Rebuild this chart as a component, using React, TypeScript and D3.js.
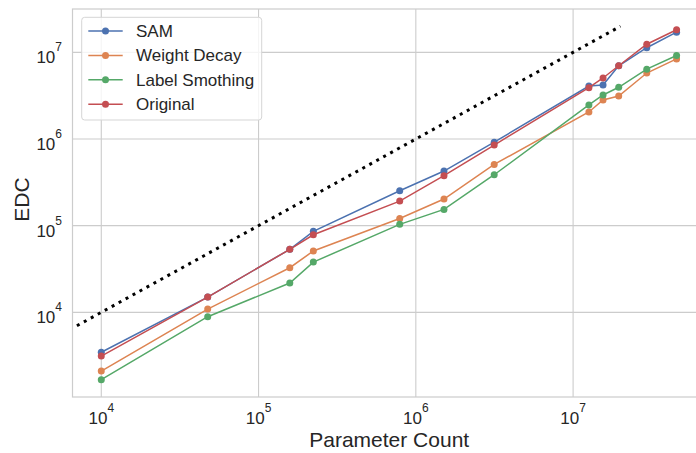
import React from "react";
import * as d3 from "d3";

const paramCounts = [1e4, 4.75e4, 1.58e5, 2.23e5, 7.9e5, 1.51e6, 3.15e6, 1.26e7, 1.55e7, 1.95e7, 2.94e7, 4.55e7];
const samEdc = [3460, 15000, 53300, 86000, 253000, 427000, 920000, 4.09e6, 4.2e6, 7.0e6, 1.13e7, 1.71e7];
const weightDecayEdc = [2100, 10900, 32700, 51000, 121000, 203000, 509000, 2.05e6, 2.82e6, 3.13e6, 5.77e6, 8.4e6];
const labelSmoothingEdc = [1670, 8900, 21800, 38000, 103500, 154000, 387000, 2.47e6, 3.22e6, 3.95e6, 6.4e6, 9.2e6];
const originalEdc = [3130, 15000, 53300, 78500, 192000, 377000, 851000, 3.91e6, 5.06e6, 7.0e6, 1.24e7, 1.82e7];

const seriesNames = ["SAM", "Weight Decay", "Label Smothing", "Original"];
const seriesValues = [samEdc, weightDecayEdc, labelSmoothingEdc, originalEdc];
const seriesColors = ["#4C72B0", "#DD8452", "#55A868", "#C44E52"];

// y = x reference line endpoints
const refLineX = [7000, 2e7];

const xTickExps = [4, 5, 6, 7];
const yTickExps = [4, 5, 6, 7];

const W = 696;
const H = 453;
const plot = { left: 72.5, right: 706, top: 9, bottom: 397 };
const FONT = "'Liberation Sans', Arial, sans-serif";
const TEXT = "#262626";
const GRID = "#cccccc";

export default function App() {
  const x = d3.scaleLog().domain([10 ** 3.817, 10 ** 7.845]).range([plot.left, plot.right]);
  const y = d3.scaleLog().domain([10 ** 3.023, 10 ** 7.5]).range([plot.bottom, plot.top]);

  const line = d3
    .line<[number, number]>()
    .x((d) => x(d[0]))
    .y((d) => y(d[1]));

  const refPath = line(refLineX.map((v) => [v, v] as [number, number])) || "";

  return (
    <div style={{ position: "absolute", left: 0, top: 0 }}>
      <svg width={W} height={H} style={{ display: "block", background: "#fff" }} fontFamily={FONT}>
        <defs>
          <clipPath id="plotArea">
            <rect x={plot.left} y={plot.top} width={plot.right - plot.left} height={plot.bottom - plot.top} />
          </clipPath>
        </defs>
        {/* grid */}
        {xTickExps.map((e) => (
          <line key={"gx" + e} x1={x(10 ** e)} x2={x(10 ** e)} y1={plot.top} y2={plot.bottom} stroke={GRID} strokeWidth={1.1} />
        ))}
        {yTickExps.map((e) => (
          <line key={"gy" + e} x1={plot.left} x2={plot.right} y1={y(10 ** e)} y2={y(10 ** e)} stroke={GRID} strokeWidth={1.1} />
        ))}
        {/* frame */}
        <rect x={plot.left} y={plot.top} width={plot.right - plot.left} height={plot.bottom - plot.top} fill="none" stroke={GRID} strokeWidth={1.2} />

        <g clipPath="url(#plotArea)">
          <path d={refPath} fill="none" stroke="#000" strokeWidth={3} strokeDasharray="3 4.95" />
          {seriesValues.map((vals, i) => {
            const pts = paramCounts.map((p, j) => [p, vals[j]] as [number, number]);
            return (
              <g key={seriesNames[i]}>
                <path d={line(pts) || ""} fill="none" stroke={seriesColors[i]} strokeWidth={1.5} />
                {pts.map((d, j) => (
                  <circle key={j} cx={x(d[0])} cy={y(d[1])} r={3.5} fill={seriesColors[i]} />
                ))}
              </g>
            );
          })}
        </g>

        {/* x tick labels */}
        {xTickExps.map((e) => (
          <text key={"tx" + e} x={x(10 ** e)} y={424} textAnchor="middle" fill={TEXT} fontSize={17}>
            10
            <tspan fontSize={12} dy={-12.5}>{e}</tspan>
          </text>
        ))}
        {/* y tick labels */}
        {yTickExps.map((e) => (
          <text key={"ty" + e} x={62} y={y(10 ** e) + 11} textAnchor="end" fill={TEXT} fontSize={17}>
            10
            <tspan fontSize={12} dy={-12}>{e}</tspan>
          </text>
        ))}

        {/* axis titles */}
        <text x={389.2} y={446.5} textAnchor="middle" fill={TEXT} fontSize={21}>
          Parameter Count
        </text>
        <text transform={`translate(29.3, 199.5) rotate(-90)`} textAnchor="middle" fill={TEXT} fontSize={21}>
          EDC
        </text>

        {/* legend */}
        <g>
          <rect x={81.7} y={17.3} width={180} height={102.7} rx={3} fill="#fff" fillOpacity={0.8} stroke="#d5d5d5" strokeWidth={1} />
          {seriesNames.map((name, i) => {
            const cy = 31 + i * 24.4;
            return (
              <g key={"lg" + name}>
                <line x1={88.3} x2={122.7} y1={cy} y2={cy} stroke={seriesColors[i]} strokeWidth={1.5} />
                <circle cx={105.5} cy={cy} r={3.5} fill={seriesColors[i]} />
                <text x={136} y={cy + 6} fill={TEXT} fontSize={17}>
                  {name}
                </text>
              </g>
            );
          })}
        </g>
      </svg>
    </div>
  );
}
